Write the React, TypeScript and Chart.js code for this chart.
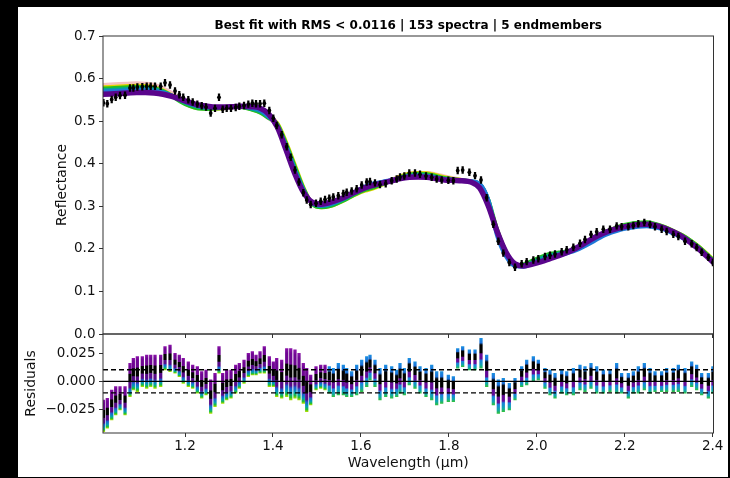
import React, { useEffect, useRef } from "react";
import { Chart, registerables } from "chart.js";

Chart.register(...registerables);

const TITLE = "Best fit with RMS < 0.0116 | 153 spectra | 5 endmembers";
const FONT = "'DejaVu Sans', 'Liberation Sans', sans-serif";
const AXIS_COLOR = "#333333";
const TEXT_COLOR = "#111111";

// ---- axis ranges / ticks ----
const X_MIN = 1.0135;
const X_MAX = 2.4018;
const REFL_MIN = 0;
const REFL_MAX = 0.7;
const RES_MIN = -0.0457;
const RES_MAX = 0.0418;
const xTickValues = [1.2, 1.4, 1.6, 1.8, 2.0, 2.2, 2.4];
const reflectanceTickValues = [0, 0.1, 0.2, 0.3, 0.4, 0.5, 0.6, 0.7];
const residualTickValues = [-0.025, 0, 0.025];
const RMS_LINE = 0.0102;
const REFLECTANCE_ERROR = 0.008;

// ---- observed spectrum (black points) ----
const wavelengths = [
  1.0145, 1.0233, 1.0333, 1.0424, 1.0522, 1.0636, 1.0749, 1.0825, 1.0916, 1.1029,
  1.1129, 1.122, 1.1318, 1.1447, 1.1545, 1.1659, 1.1773, 1.187, 1.196, 1.2075,
  1.2175, 1.228, 1.238, 1.2478, 1.2584, 1.2682, 1.2773, 1.2857, 1.2948, 1.3046,
  1.3153, 1.3235, 1.3342, 1.344, 1.3531, 1.3615, 1.3706, 1.3803, 1.3917, 1.4008,
  1.4085, 1.4199, 1.4313, 1.4404, 1.4501, 1.4592, 1.469, 1.4768, 1.4858, 1.4979,
  1.5086, 1.5184, 1.5281, 1.5372, 1.5486, 1.56, 1.5677, 1.579, 1.5904, 1.6018,
  1.6132, 1.6207, 1.632, 1.6434, 1.6564, 1.67, 1.6814, 1.6889, 1.6987, 1.71,
  1.723, 1.7344, 1.748, 1.761, 1.7723, 1.7837, 1.7988, 1.8102, 1.8201, 1.8314,
  1.8466, 1.8595, 1.8731, 1.886, 1.9011, 1.9125, 1.9238, 1.9375, 1.9504, 1.9656,
  1.977, 1.9921, 2.0034, 2.0186, 2.03, 2.0414, 2.0566, 2.068, 2.0831, 2.0982,
  2.1096, 2.1232, 2.1362, 2.1512, 2.1664, 2.1816, 2.1929, 2.2081, 2.2195, 2.2308,
  2.2445, 2.2574, 2.2688, 2.2839, 2.2953, 2.3104, 2.3218, 2.337, 2.3522, 2.3635,
  2.3749, 2.3901, 2.4005,
];

const reflectance = [
  0.543, 0.541, 0.551, 0.556, 0.56, 0.561, 0.578, 0.578, 0.58, 0.581,
  0.582, 0.582, 0.582, 0.582, 0.59, 0.585, 0.571, 0.562, 0.556, 0.55,
  0.545, 0.54, 0.536, 0.533, 0.519, 0.53, 0.556, 0.528, 0.53, 0.53,
  0.532, 0.535, 0.537, 0.54, 0.542, 0.541, 0.541, 0.542, 0.525, 0.507,
  0.49, 0.468, 0.44, 0.415, 0.385, 0.357, 0.332, 0.315, 0.304, 0.307,
  0.312, 0.316, 0.319, 0.322, 0.325, 0.33, 0.333, 0.336, 0.341, 0.35,
  0.357, 0.358, 0.355, 0.351, 0.353, 0.36, 0.364, 0.369, 0.371, 0.378,
  0.378, 0.375, 0.371, 0.368, 0.364, 0.362, 0.361, 0.36, 0.384, 0.385,
  0.38, 0.372, 0.362, 0.32, 0.258, 0.218, 0.19, 0.168, 0.157, 0.165,
  0.17, 0.174, 0.177, 0.182, 0.185, 0.188, 0.193, 0.198, 0.204, 0.213,
  0.222, 0.234, 0.24, 0.246, 0.246, 0.254, 0.252, 0.252, 0.255, 0.259,
  0.262, 0.257, 0.252, 0.246, 0.241, 0.234, 0.229, 0.218, 0.212, 0.203,
  0.192, 0.18, 0.168,
];

// ---- residual spread per wavelength (lowest / highest of the 153 fits) ----
const residualLow = [
  -0.0445, -0.0415, -0.0342, -0.0298, -0.0254, -0.0298, -0.0136, -0.0077, -0.0092, -0.0047,
  -0.0062, -0.0047, -0.0062, -0.0047, 0.01, 0.0085, 0.0071, 0.0041, -0.0018, -0.0047,
  -0.0062, -0.0106, -0.015, -0.0121, -0.0283, -0.0224, 0.0071, -0.0195, -0.0165, -0.015,
  -0.0106, -0.0062, -0.0018, 0.0041, 0.0056, 0.0056, 0.0071, 0.0071, -0.0047, -0.0047,
  -0.0136, -0.015, -0.0136, -0.0165, -0.015, -0.0165, -0.0195, -0.0268, -0.0209, -0.0077,
  -0.0062, -0.0077, -0.0106, -0.0136, -0.0121, -0.0121, -0.0136, -0.0136, -0.0121, -0.0092,
  -0.0047, 0.0012, -0.0047, -0.0165, -0.0136, -0.015, -0.0136, -0.0106, -0.0121, -0.0033,
  -0.0062, -0.0106, -0.0136, -0.0165, -0.0209, -0.0195, -0.018, -0.018, 0.0115, 0.0129,
  0.01, 0.01, 0.0115, -0.0047, -0.0209, -0.0283, -0.0268, -0.0254, -0.0165, -0.0047,
  -0.0033, -0.0003, 0.0012, -0.0062, -0.0121, -0.015, -0.0106, -0.0121, -0.0121, -0.0077,
  -0.0092, -0.0062, -0.0106, -0.0106, -0.0092, -0.0106, -0.0106, -0.015, -0.0106, -0.0106,
  -0.0077, -0.0106, -0.0092, -0.0092, -0.0092, -0.0092, -0.0092, -0.0106, -0.0047, -0.0077,
  -0.0121, -0.015, -0.0106,
];

const residualHigh = [
  -0.0165, -0.015, -0.0077, -0.0047, -0.0047, -0.0047, 0.0159, 0.0203, 0.0218, 0.0218,
  0.0232, 0.0232, 0.0232, 0.0232, 0.0306, 0.032, 0.0247, 0.0232, 0.0203, 0.0173,
  0.0144, 0.0129, 0.0085, 0.01, 0.0012, 0.0071, 0.0306, 0.0071, 0.01, 0.01,
  0.0144, 0.0159, 0.0188, 0.0247, 0.0262, 0.0232, 0.0262, 0.0306, 0.0218, 0.0173,
  0.0203, 0.0188, 0.029, 0.029, 0.0277, 0.0247, 0.0159, 0.0115, 0.0056, 0.0129,
  0.0144, 0.0144, 0.0129, 0.0115, 0.0159, 0.0144, 0.0115, 0.0085, 0.0144, 0.0188,
  0.0218, 0.0232, 0.0188, 0.0115, 0.0144, 0.0129, 0.01, 0.0159, 0.0115, 0.0203,
  0.0173, 0.0129, 0.0115, 0.0144, 0.0085, 0.0085, 0.0056, 0.0041, 0.029, 0.0306,
  0.0277, 0.0277, 0.038, 0.0232, 0.0071, 0.0012, 0.0026, -0.0018, 0.0026, 0.0129,
  0.0188, 0.0218, 0.0188, 0.0115, 0.01, 0.0071, 0.01, 0.0085, 0.0115, 0.0144,
  0.0129, 0.0159, 0.0129, 0.01, 0.01, 0.0159, 0.0071, 0.0071, 0.0085, 0.0129,
  0.0159, 0.0115, 0.0085, 0.0085, 0.0115, 0.0115, 0.0144, 0.0115, 0.0173, 0.0144,
  0.0071, 0.0071, 0.0129,
];

// ---- fitted spectra (representative members of the ensemble) ----
const fitWavelengths = [
  1.01, 1.03, 1.05, 1.07, 1.09, 1.11, 1.13, 1.15, 1.17, 1.19,
  1.21, 1.23, 1.25, 1.27, 1.29, 1.31, 1.33, 1.35, 1.37, 1.39,
  1.41, 1.43, 1.45, 1.47, 1.49, 1.51, 1.53, 1.55, 1.57, 1.59,
  1.61, 1.63, 1.65, 1.67, 1.69, 1.71, 1.73, 1.75, 1.77, 1.79,
  1.81, 1.83, 1.85, 1.87, 1.89, 1.91, 1.93, 1.95, 1.97, 1.99,
  2.01, 2.03, 2.05, 2.07, 2.09, 2.11, 2.13, 2.15, 2.17, 2.19,
  2.21, 2.23, 2.25, 2.27, 2.29, 2.31, 2.33, 2.35, 2.37, 2.39,
  2.41,
];

const fitPink = [
  0.585, 0.586, 0.587, 0.588, 0.589, 0.588, 0.585, 0.577, 0.566, 0.553,
  0.542, 0.534, 0.531, 0.528, 0.53, 0.533, 0.533, 0.529, 0.522, 0.507,
  0.49, 0.444, 0.388, 0.338, 0.307, 0.301, 0.305, 0.313, 0.323, 0.333,
  0.341, 0.347, 0.354, 0.362, 0.37, 0.376, 0.378, 0.378, 0.375, 0.37,
  0.366, 0.362, 0.357, 0.346, 0.305, 0.242, 0.192, 0.163, 0.16, 0.166,
  0.172, 0.179, 0.185, 0.192, 0.2, 0.211, 0.224, 0.236, 0.245, 0.252,
  0.257, 0.26, 0.261, 0.257, 0.251, 0.242, 0.232, 0.218, 0.202, 0.183,
  0.164,
];

const fitYellow = [
  0.58, 0.581, 0.582, 0.583, 0.584, 0.583, 0.58, 0.573, 0.561, 0.547,
  0.536, 0.53, 0.529, 0.529, 0.531, 0.534, 0.533, 0.528, 0.521, 0.509,
  0.496, 0.452, 0.398, 0.344, 0.305, 0.297, 0.3, 0.308, 0.318, 0.328,
  0.336, 0.342, 0.351, 0.361, 0.371, 0.377, 0.379, 0.378, 0.374, 0.369,
  0.365, 0.362, 0.358, 0.349, 0.31, 0.245, 0.194, 0.163, 0.162, 0.169,
  0.176, 0.183, 0.188, 0.193, 0.2, 0.211, 0.224, 0.236, 0.246, 0.253,
  0.258, 0.261, 0.262, 0.258, 0.252, 0.243, 0.233, 0.22, 0.205, 0.186,
  0.167,
];

const fitGreen = [
  0.577, 0.578, 0.579, 0.58, 0.581, 0.58, 0.578, 0.571, 0.559, 0.545,
  0.535, 0.529, 0.528, 0.529, 0.531, 0.534, 0.532, 0.527, 0.52, 0.507,
  0.494, 0.448, 0.394, 0.342, 0.304, 0.297, 0.3, 0.308, 0.318, 0.329,
  0.338, 0.344, 0.352, 0.36, 0.369, 0.375, 0.377, 0.376, 0.372, 0.367,
  0.364, 0.362, 0.359, 0.353, 0.316, 0.246, 0.194, 0.162, 0.164, 0.173,
  0.182, 0.189, 0.192, 0.195, 0.2, 0.21, 0.222, 0.237, 0.246, 0.254,
  0.259, 0.262, 0.263, 0.259, 0.252, 0.243, 0.233, 0.22, 0.204, 0.185,
  0.166,
];

const fitTeal = [
  0.573, 0.574, 0.575, 0.576, 0.577, 0.577, 0.575, 0.57, 0.561, 0.548,
  0.539, 0.533, 0.531, 0.531, 0.532, 0.534, 0.533, 0.529, 0.523, 0.509,
  0.491, 0.444, 0.389, 0.34, 0.306, 0.3, 0.303, 0.311, 0.321, 0.332,
  0.342, 0.349, 0.355, 0.361, 0.367, 0.372, 0.374, 0.373, 0.369, 0.365,
  0.363, 0.361, 0.359, 0.353, 0.316, 0.236, 0.186, 0.161, 0.161, 0.169,
  0.178, 0.185, 0.189, 0.194, 0.199, 0.209, 0.221, 0.234, 0.242, 0.25,
  0.255, 0.258, 0.259, 0.255, 0.249, 0.24, 0.23, 0.217, 0.201, 0.182,
  0.163,
];

const fitBlue = [
  0.569, 0.57, 0.571, 0.572, 0.573, 0.573, 0.571, 0.567, 0.56, 0.551,
  0.542, 0.536, 0.534, 0.533, 0.533, 0.535, 0.535, 0.532, 0.526, 0.511,
  0.488, 0.438, 0.383, 0.336, 0.307, 0.302, 0.306, 0.314, 0.324, 0.336,
  0.347, 0.354, 0.358, 0.362, 0.367, 0.371, 0.372, 0.371, 0.367, 0.364,
  0.362, 0.36, 0.359, 0.353, 0.314, 0.23, 0.182, 0.16, 0.158, 0.165,
  0.172, 0.178, 0.184, 0.19, 0.197, 0.207, 0.218, 0.23, 0.238, 0.245,
  0.249, 0.252, 0.253, 0.25, 0.245, 0.236, 0.226, 0.214, 0.199, 0.18,
  0.161,
];

const fitPurple = [
  0.563, 0.564, 0.565, 0.566, 0.567, 0.567, 0.566, 0.563, 0.558, 0.551,
  0.544, 0.538, 0.535, 0.533, 0.533, 0.534, 0.535, 0.534, 0.531, 0.517,
  0.486, 0.432, 0.376, 0.332, 0.309, 0.305, 0.309, 0.316, 0.325, 0.335,
  0.344, 0.35, 0.355, 0.36, 0.365, 0.368, 0.369, 0.368, 0.365, 0.362,
  0.361, 0.36, 0.357, 0.343, 0.3, 0.24, 0.192, 0.165, 0.16, 0.164,
  0.17, 0.177, 0.184, 0.192, 0.202, 0.214, 0.226, 0.236, 0.244, 0.25,
  0.254, 0.257, 0.258, 0.255, 0.249, 0.24, 0.229, 0.214, 0.198, 0.179,
  0.16,
];

const fitMembers = [
  { values: fitPink, color: "rgba(236,150,150,0.6)", width: 4 },
  { values: fitYellow, color: "#e2d400", width: 3.5 },
  { values: fitGreen, color: "#22c022", width: 3.5 },
  { values: fitTeal, color: "#00a39a", width: 3.5 },
  { values: fitBlue, color: "#1f78d8", width: 4 },
  { values: fitPurple, color: "#5a058c", width: 5.5 },
];

const PALETTE_SHORT: [number, string][] = [
  [0, "#8a12a8"], [0.1, "#6e0592"], [0.3, "#6e0592"], [0.33, "#000000"],
  [0.55, "#000000"], [0.58, "#560a88"], [0.72, "#560a88"], [0.78, "#1a5fd0"],
  [0.88, "#00a0b0"], [0.95, "#22c030"], [1, "#aadd00"],
];
const PALETTE_LONG: [number, string][] = [
  [0, "#1a8fe0"], [0.15, "#1a6fd8"], [0.22, "#000000"], [0.48, "#000000"],
  [0.52, "#620a96"], [0.68, "#620a96"], [0.74, "#1a7fe0"], [0.9, "#10a8a8"],
  [1, "#30c040"],
];

const framePlugin = {
  id: "frame",
  afterDatasetsDraw(chart: any) {
    const { ctx, chartArea: a } = chart;
    ctx.save();
    ctx.strokeStyle = AXIS_COLOR;
    ctx.lineWidth = 1;
    ctx.strokeRect(a.left, a.top, a.right - a.left, a.bottom - a.top);
    ctx.restore();
  },
};

const tickGrid = {
  offset: false,
  drawOnChartArea: false,
  drawTicks: true,
  tickLength: 4,
  tickColor: AXIS_COLOR,
  tickWidth: 1,
};

const setTicks = (values: number[]) => (axis: any) => {
  axis.ticks = values.map((value) => ({ value }));
};

function columnColor(ctx: any) {
  const chart = ctx.chart;
  const raw = ctx.raw;
  if (!raw || !chart.chartArea || !Array.isArray(raw.y)) return "#6a0a9a";
  const ys = chart.scales.y;
  const top = ys.getPixelForValue(raw.y[1]);
  const bottom = ys.getPixelForValue(raw.y[0]);
  if (!isFinite(top) || !isFinite(bottom) || bottom - top < 1) return "#6a0a9a";
  const g = chart.ctx.createLinearGradient(0, top, 0, bottom);
  const stops = raw.x < 1.52 ? PALETTE_SHORT : PALETTE_LONG;
  stops.forEach(([o, c]) => g.addColorStop(o, c));
  return g;
}

export default function App() {
  const topRef = useRef<HTMLCanvasElement | null>(null);
  const botRef = useRef<HTMLCanvasElement | null>(null);

  useEffect(() => {
    const tickFont = { family: FONT, size: 13.5 };
    const titleFont = { family: FONT, size: 14 };

    const topChart = new Chart(topRef.current as HTMLCanvasElement, {
      type: "line",
      data: {
        datasets: [
          ...fitMembers.map((m, i) => ({
            type: "line" as const,
            data: fitWavelengths.map((x, j) => ({ x, y: m.values[j] })),
            borderColor: m.color,
            borderWidth: m.width,
            pointRadius: 0,
            cubicInterpolationMode: "monotone" as const,
            fill: false,
            clip: 0,
            order: 10 - i,
          })),
          {
            type: "bar" as const,
            data: wavelengths.map((x, i) => ({
              x,
              y: [reflectance[i] - REFLECTANCE_ERROR, reflectance[i] + REFLECTANCE_ERROR],
            })),
            backgroundColor: "#000000",
            borderWidth: 0,
            barThickness: 1.6,
            clip: 0,
            order: 1,
          } as any,
          {
            type: "line" as const,
            data: wavelengths.map((x, i) => ({ x, y: reflectance[i] })),
            showLine: false,
            pointRadius: 1.9,
            pointBorderWidth: 0,
            pointBackgroundColor: "#000000",
            clip: 0,
            order: 0,
          },
        ],
      },
      options: {
        animation: false,
        responsive: false,
        layout: { padding: { left: 32.1, right: 14.5, top: 0, bottom: 8 } },
        plugins: {
          legend: { display: false },
          tooltip: { enabled: false },
          title: {
            display: true,
            text: TITLE,
            fullSize: false,
            color: "#000000",
            font: { family: FONT, size: 12, weight: "bold" },
            padding: { top: 11.8, bottom: 2.8 },
          },
        },
        scales: {
          x: {
            type: "linear",
            min: X_MIN,
            max: X_MAX,
            offset: false,
            bounds: "data",
            ticks: { display: false },
            afterBuildTicks: setTicks(xTickValues),
            grid: tickGrid,
            border: { display: false },
            afterFit: (s: any) => { s.height = 4; },
          },
          y: {
            type: "linear",
            min: REFL_MIN,
            max: REFL_MAX,
            offset: false,
            bounds: "data",
            afterBuildTicks: setTicks(reflectanceTickValues),
            ticks: {
              callback: (v: any) => Number(v).toFixed(1),
              font: tickFont,
              color: TEXT_COLOR,
              padding: 3.5,
            },
            grid: tickGrid,
            border: { display: false },
            title: { display: true, text: "Reflectance", font: titleFont, color: TEXT_COLOR, padding: { top: 4, bottom: 4 } },
            afterFit: (s: any) => { s.width = 52.9; },
          },
        },
      } as any,
      plugins: [framePlugin],
    });

    const botChart = new Chart(botRef.current as HTMLCanvasElement, {
      type: "line",
      data: {
        datasets: [
          {
            type: "bar" as const,
            data: wavelengths.map((x, i) => ({ x, y: [residualLow[i], residualHigh[i]] })),
            backgroundColor: columnColor,
            borderWidth: 0,
            barThickness: 2.6,
            clip: 0,
            order: 5,
          } as any,
          {
            type: "line" as const,
            data: [{ x: X_MIN, y: 0 }, { x: X_MAX, y: 0 }],
            borderColor: "#000000",
            borderWidth: 1.3,
            pointRadius: 0,
            clip: 0,
            order: 0,
          },
          {
            type: "line" as const,
            data: [{ x: X_MIN, y: RMS_LINE }, { x: X_MAX, y: RMS_LINE }],
            borderColor: "#000000",
            borderWidth: 1.3,
            borderDash: [5, 3],
            pointRadius: 0,
            clip: 0,
            order: 0,
          },
          {
            type: "line" as const,
            data: [{ x: X_MIN, y: -RMS_LINE }, { x: X_MAX, y: -RMS_LINE }],
            borderColor: "#000000",
            borderWidth: 1.3,
            borderDash: [5, 3],
            pointRadius: 0,
            clip: 0,
            order: 0,
          },
        ],
      },
      options: {
        animation: false,
        responsive: false,
        layout: { padding: { left: 0.6, right: 14.5, top: 14, bottom: 1.6 } },
        plugins: { legend: { display: false }, tooltip: { enabled: false } },
        scales: {
          x: {
            type: "linear",
            min: X_MIN,
            max: X_MAX,
            offset: false,
            bounds: "data",
            afterBuildTicks: setTicks(xTickValues),
            ticks: {
              callback: (v: any) => Number(v).toFixed(1),
              font: tickFont,
              color: TEXT_COLOR,
              padding: 1,
              maxRotation: 0,
              autoSkip: false,
            },
            grid: tickGrid,
            border: { display: false },
            title: { display: true, text: "Wavelength (µm)", font: titleFont, color: TEXT_COLOR, padding: { top: 4, bottom: 4 } },
            afterFit: (s: any) => { s.height = 42.4; },
          },
          y: {
            type: "linear",
            min: RES_MIN,
            max: RES_MAX,
            offset: false,
            bounds: "data",
            afterBuildTicks: setTicks(residualTickValues),
            ticks: {
              callback: (v: any) => {
                const n = Number(v);
                if (Math.abs(n) < 1e-9) return "0.000";
                return (n < 0 ? "\u2212" : "") + Math.abs(n).toFixed(3);
              },
              font: tickFont,
              color: TEXT_COLOR,
              padding: 3.5,
            },
            grid: tickGrid,
            border: { display: false },
            title: { display: true, text: "Residuals", font: titleFont, color: TEXT_COLOR, padding: { top: 4, bottom: 4 } },
            afterFit: (s: any) => { s.width = 84.4; },
          },
        },
      } as any,
      plugins: [framePlugin],
    });

    return () => {
      topChart.destroy();
      botChart.destroy();
    };
  }, []);

  return (
    <div style={{ position: "fixed", left: 0, top: 0, width: 730, height: 478, background: "#000", overflow: "hidden" }}>
      <div style={{ position: "absolute", left: 18, top: 7, width: 710, height: 470, background: "#fff" }}>
        <canvas ref={topRef} width={710} height={339} style={{ position: "absolute", left: 0, top: 0, width: 710, height: 339 }} />
        <canvas ref={botRef} width={710} height={157} style={{ position: "absolute", left: 0, top: 313, width: 710, height: 157 }} />
      </div>
    </div>
  );
}
